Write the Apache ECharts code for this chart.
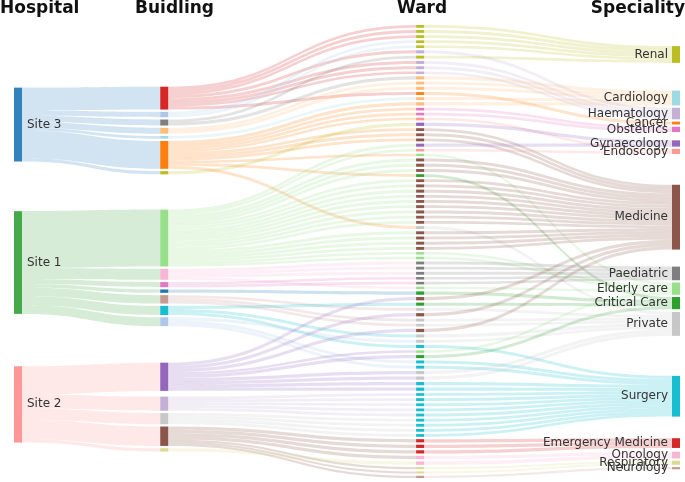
<!DOCTYPE html>
<html><head><meta charset="utf-8">
<script src="https://cdn.jsdelivr.net/npm/echarts@6/dist/echarts.min.js"></script>
<style>html,body{margin:0;padding:0;background:#fff}#c{width:685px;height:482px}</style>
</head><body><div id="c"></div>
<script>
// ---------- data ----------
const columnTitles = ['Hospital', 'Buidling', 'Ward', 'Speciality'];
const hospitals = ['Site 3', 'Site 1', 'Site 2'];
const buildings = ['S3-E','S3-A','S3-B','S3-C','S3-D','S3-F','S3-G',
                   'S1-D','S1-A','S1-B','S1-C','S1-E','S1-F','S1-G',
                   'S2-C','S2-A','S2-B','S2-D','S2-E'];
const buildingHospital = [0,0,0,0,0,0,0, 1,1,1,1,1,1,1, 2,2,2,2,2];
const specialties = ['Cancer','Haematology','Renal','Cardiology','Endoscopy','Obstetrics','Gynaecology',
  'Medicine','Elderly care','Paediatric','Private','Critical Care','Surgery','Emergency Medicine',
  'Respiratory','Neurology','Oncology'];
// one entry per ward (88 wards)
const wardBuilding = [
  0,0,0,0,0,0,0,0, 1,1, 2,2, 3, 4,4, 5,5,5,5,5,5,5,5,5,5, 6,
  7,7,7,7,7,7,7,7,7,7,7,7,7,7,7,7,7,7,7,7,
  8,8,8,8, 9,9, 10,10,10, 11,11,11, 12, 13,13,13,
  14,14,14,14,14,14,14,14,14, 15,15,15,15,15, 16,16,16,16, 17,17,17,17,17,17,17, 18];
const wardSpecialty = [
  0,1,1,1,1,2,2,2, 2,2, 2,3, 3, 3,3, 3,4,5,5,7,7,7,8,10,11, 6,
  6,4,7,7,7,7,7,7,7,7,7,7,7,7,7,7,7,7,8,8,
  8,9,9,9, 9,9, 10,10,10, 10,11,12, 11, 10,12,12,
  7,7,7,8,10,10,11,12,12, 12,12,12,12,12, 12,12,12,12, 13,13,13,14,14,15,16, 16];
const wardValues = [
  2.8,2.5,3.0,3.0,2.9,2.7,2.8,2.8, 2.6,2.7, 2.9,3.0, 2.7, 2.8,2.9,
  3.2,2.6,2.6,2.6,2.8,2.8,2.8,2.4,2.9,2.7, 3.2,
  3.0,2.4,2.9,2.8,3.0,2.8,2.9,2.7,3.0,2.8,2.9,2.8,3.0,2.8,2.9,2.8,2.9,2.8,2.4,2.4,
  2.4,2.8,2.8,2.8, 2.5,2.5, 2.8,2.8,2.7, 3.0,3.0,3.0, 3.3, 2.9,2.9,2.9,
  3.2,3.2,3.2,2.4,3.2,3.2,3.0,3.2,3.2, 2.7,2.8,2.8,2.8,2.8, 2.75,2.75,2.75,2.75,
  3.2,3.2,3.2,2.0,2.0,2.2,3.3, 3.3];
const wards = wardValues.map((v, i) => 'Ward ' + (i + 1));

// ---------- styles ----------
const hospitalColors = ['#3282bd', '#45a849', '#ff9896'];
const buildingColors = ['#d62728','#aec7e8','#7f7f7f','#9edae5','#ffbb78','#ff7f0e','#bcbd22',
  '#98df8a','#f7b6d2','#e377c2','#c49c94','#17becf','#1f77b4','#aec7e8',
  '#9467bd','#c5b0d5','#c7c7c7','#8c564b','#dbdb8d'];
const specialtyColors = ['#ff7f0e','#c5b0d5','#bcbd22','#9edae5','#ff9896','#e377c2','#9467bd',
  '#8c564b','#98df8a','#7f7f7f','#c7c7c7','#2ca02c','#17becf','#d62728','#dbdb8d','#c49c94','#f7b6d2'];
const wardColorsBySpecialty = ['#ff7f0e','#c5b0d5','#bcbd22','#ffbb78','#ff9896','#e377c2','#9467bd',
  '#8c564b','#98df8a','#7f7f7f','#c7c7c7','#2ca02c','#17becf','#d62728','#dbdb8d','#c49c94','#f7b6d2'];
const FONT = 'DejaVu Sans';

// ---------- build nodes & links ----------
const nodes = [];
hospitals.forEach((h, i) => nodes.push({
  name: h, depth: 0, itemStyle: { color: hospitalColors[i] },
  label: { show: true, position: 'right', distance: 5 }
}));
buildings.forEach((b, i) => nodes.push({ name: b, depth: 4, itemStyle: { color: buildingColors[i] } }));
wards.forEach((w, i) => nodes.push({ name: w, depth: 11, itemStyle: { color: wardColorsBySpecialty[wardSpecialty[i]] } }));
specialties.forEach((s, i) => nodes.push({
  name: s, depth: 18, itemStyle: { color: specialtyColors[i] },
  label: { show: true, position: 'left', distance: 4 }
}));

const links = [];
const buildingTotals = buildings.map(() => 0);
wardValues.forEach((v, i) => { buildingTotals[wardBuilding[i]] += v; });
buildings.forEach((b, i) => links.push({ source: hospitals[buildingHospital[i]], target: b, value: +buildingTotals[i].toFixed(2) }));
wards.forEach((w, i) => links.push({ source: buildings[wardBuilding[i]], target: w, value: wardValues[i] }));
wards.forEach((w, i) => links.push({ source: w, target: specialties[wardSpecialty[i]], value: wardValues[i] }));

const titleLefts = [0, 135, 397, null];
const chart = echarts.init(document.getElementById('c'), null, { renderer: 'canvas' });
chart.setOption({
  animation: false,
  backgroundColor: '#fff',
  title: columnTitles.map((t, i) => Object.assign({
    text: t, top: 0, padding: 0,
    textStyle: { fontFamily: FONT, fontWeight: 'bold', fontSize: 17, color: '#111' }
  }, i === 3 ? { right: 0 } : { left: titleLefts[i] })),
  series: [{
    type: 'sankey',
    left: 14, right: 5, top: 25, bottom: 4,
    nodeWidth: 8, nodeGap: 2.3,
    nodeAlign: 'left',
    layoutIterations: 150,
    draggable: false,
    emphasis: { disabled: true },
    label: { show: false, fontFamily: FONT, fontSize: 12, color: '#333' },
    labelLayout: { moveOverlap: 'shiftY' },
    itemStyle: { borderWidth: 0 },
    lineStyle: { color: 'source', opacity: 0.22, curveness: 0.5 },
    data: nodes,
    links: links
  }]
});
</script></body></html>
